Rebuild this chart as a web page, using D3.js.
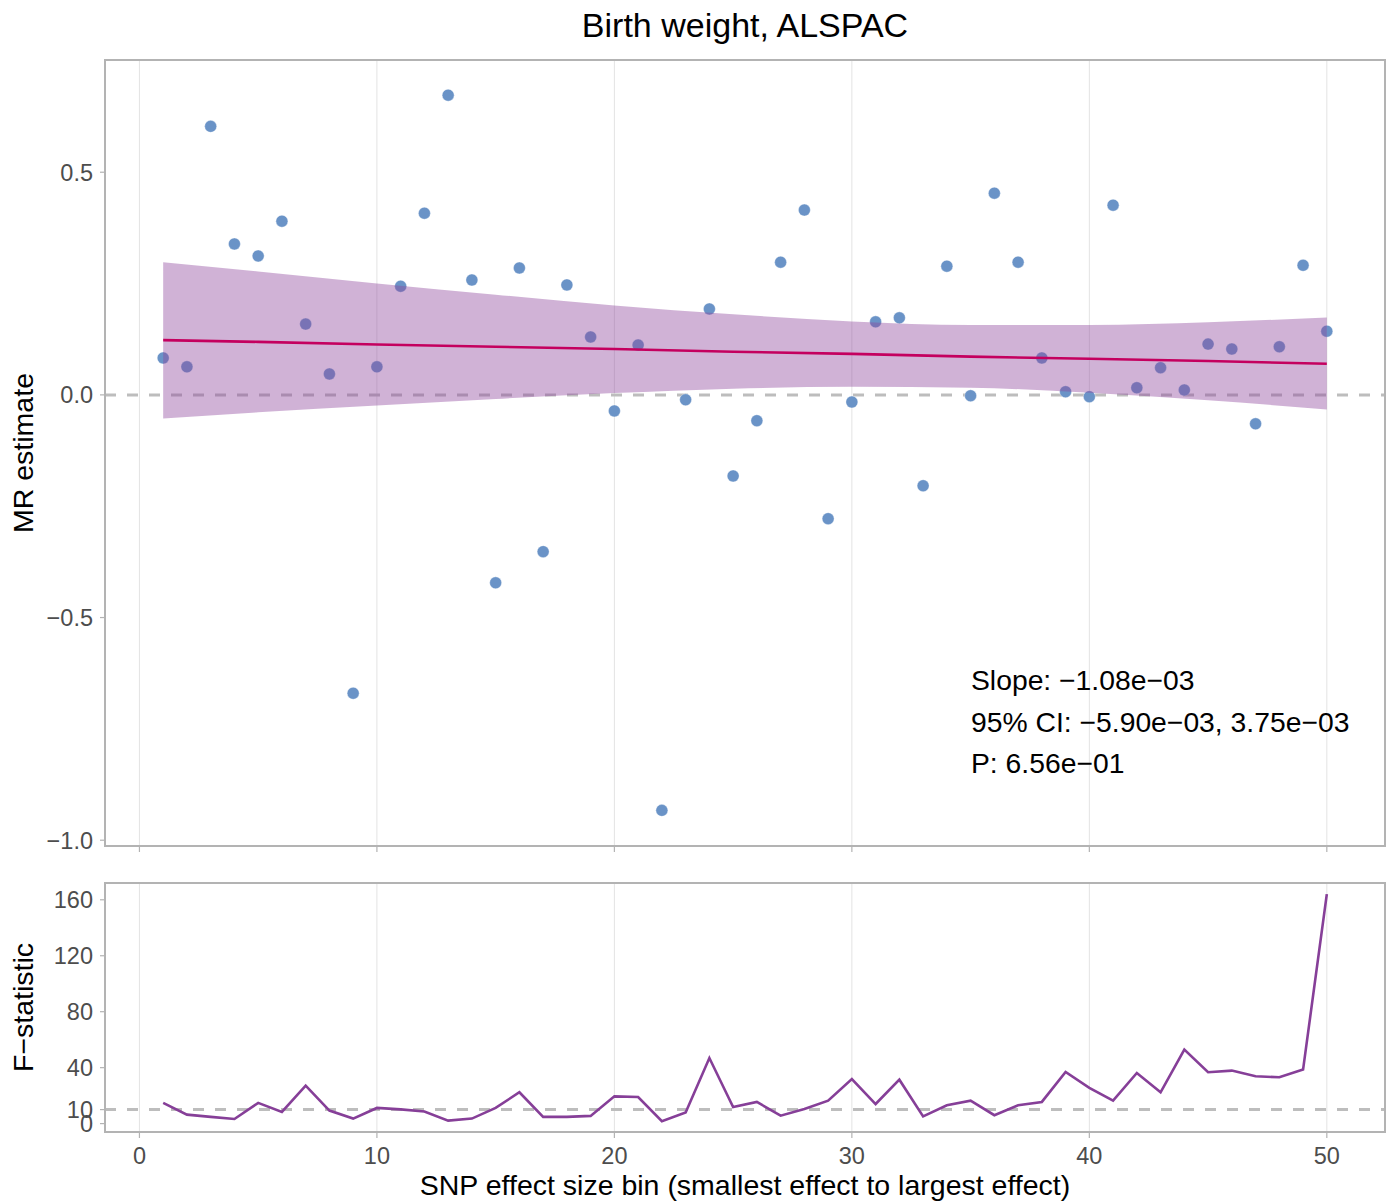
<!DOCTYPE html>
<html lang="en">
<head>
  <meta charset="UTF-8">
  <title>Birth weight, ALSPAC</title>
  <style>
    body { margin: 0; background: #fff; }
    svg { font-family: "Liberation Sans", Arial, sans-serif; }
    .frame { fill: none; stroke: #b3b3b3; stroke-width: 2; }
    .grid line { stroke: #e3e3e3; stroke-width: 1; }
    .tick-label { fill: #4d4d4d; font-size: 23.5px; }
    .axis-title { fill: #000; font-size: 28.5px; }
  </style>
  <script src="https://d3js.org/d3.v7.min.js"></script>
</head>
<body>
<div id="chart"></div>
<script>
  // bins 1..50
  var bins = d3.range(1, 51);

  // MR estimate per bin
  var mrEstimate = [
    0.083, 0.063, 0.603, 0.339, 0.312, 0.390, 0.159, 0.047, -0.670, 0.063,
    0.244, 0.408, 0.673, 0.258, -0.422, 0.285, -0.352, 0.247, 0.130, -0.036,
    0.112, -0.933, -0.011, 0.193, -0.182, -0.058, 0.298, 0.415, -0.278, -0.016,
    0.164, 0.173, -0.204, 0.289, -0.002, 0.453, 0.298, 0.083, 0.007, -0.004,
    0.426, 0.016, 0.061, 0.011, 0.114, 0.103, -0.065, 0.108, 0.291, 0.143
  ];

  // F-statistic per bin
  var fStat = [
    14.8, 6.4, 4.8, 3.3, 14.8, 8.3, 27.1, 9.3, 3.6, 11.2,
    10.2, 8.6, 2.1, 3.6, 11.2, 22.4, 4.8, 4.8, 5.5, 19.5,
    19.0, 1.7, 7.9, 46.9, 11.9, 15.5, 5.7, 10.5, 16.4, 31.9,
    14.0, 31.4, 5.2, 13.1, 16.4, 6.0, 13.1, 15.5, 36.9, 25.5,
    16.4, 36.2, 22.4, 52.9, 36.7, 37.9, 33.8, 33.1, 38.6, 164.0
  ];

  // fitted line and 95% band, read at a few bins
  var fitX     = [1, 5, 10, 15, 20, 25, 30, 35, 40, 45, 50];
  var fitMid   = [0.123, 0.119, 0.113, 0.108, 0.103, 0.097, 0.092, 0.086, 0.081, 0.076, 0.070];
  var fitUpper = [0.298, 0.277, 0.250, 0.225, 0.201, 0.181, 0.165, 0.157, 0.157, 0.163, 0.174];
  var fitLower = [-0.053, -0.039, -0.024, -0.009, 0.004, 0.014, 0.018, 0.016, 0.005, -0.012, -0.033];

  var xTicks = [0, 10, 20, 30, 40, 50];
  var mrTicks = [-1.0, -0.5, 0.0, 0.5];
  var fTicks = [0, 10, 40, 80, 120, 160];
  var fThreshold = 10;

  var statLines = [
    "Slope: \u22121.08e\u221203",
    "95% CI: \u22125.90e\u221203, 3.75e\u221203",
    "P: 6.56e\u221201"
  ];

  var width = 1392, height = 1204;
  var left = 105, right = 1385;
  var top1 = 60, bottom1 = 846;
  var top2 = 883, bottom2 = 1132;

  var svg = d3.select("#chart").append("svg")
    .attr("width", width)
    .attr("height", height);

  var x = d3.scaleLinear().domain([-1.45, 52.45]).range([left, right]);
  var y1 = d3.scaleLinear().domain([-1.013, 0.752]).range([bottom1, top1]);
  var y2 = d3.scaleLinear().domain([-6, 172]).range([bottom2, top2]);

  var fmtMinus = function(s) { return s.replace("-", "\u2212"); };

  function panel(yScale, top, bottom, ticks, fmt) {
    // vertical grid
    svg.append("g").attr("class", "grid")
      .selectAll("line").data(xTicks).enter().append("line")
      .attr("x1", d => x(d)).attr("x2", d => x(d))
      .attr("y1", top).attr("y2", bottom);

    // y ticks
    var g = svg.append("g");
    g.selectAll("line").data(ticks).enter().append("line")
      .attr("x1", left - 5).attr("x2", left)
      .attr("y1", d => yScale(d)).attr("y2", d => yScale(d))
      .attr("stroke", "#b3b3b3").attr("stroke-width", 1.2);
    g.selectAll("text").data(ticks).enter().append("text")
      .attr("class", "tick-label")
      .attr("x", left - 12)
      .attr("y", d => yScale(d))
      .attr("dy", "0.36em")
      .attr("text-anchor", "end")
      .text(fmt);

    // x ticks
    svg.append("g").selectAll("line").data(xTicks).enter().append("line")
      .attr("x1", d => x(d)).attr("x2", d => x(d))
      .attr("y1", bottom).attr("y2", bottom + 6)
      .attr("stroke", "#b3b3b3").attr("stroke-width", 1.2);
  }

  panel(y1, top1, bottom1, mrTicks, d => fmtMinus(d3.format(".1f")(d)));
  panel(y2, top2, bottom2, fTicks, d => d);

  // ---- top panel ----
  svg.append("line")
    .attr("x1", left).attr("x2", right)
    .attr("y1", y1(0)).attr("y2", y1(0))
    .attr("stroke", "#bdbdbd").attr("stroke-width", 3)
    .attr("stroke-dasharray", "11,11");

  svg.append("g").selectAll("circle")
    .data(bins).enter().append("circle")
    .attr("cx", d => x(d))
    .attr("cy", (d, i) => y1(mrEstimate[i]))
    .attr("r", 6)
    .attr("fill", "#6a93c7")
    .attr("stroke", "#fff").attr("stroke-width", 0.6).attr("stroke-opacity", 0.6);

  var band = d3.area()
    .x((d, i) => x(fitX[i]))
    .y0((d, i) => y1(fitLower[i]))
    .y1((d, i) => y1(fitUpper[i]))
    .curve(d3.curveMonotoneX);

  svg.append("path")
    .datum(fitX)
    .attr("d", band)
    .attr("fill", "#8f479d")
    .attr("fill-opacity", 0.42);

  svg.append("path")
    .datum(fitX)
    .attr("d", d3.line().x((d, i) => x(fitX[i])).y((d, i) => y1(fitMid[i])))
    .attr("fill", "none")
    .attr("stroke", "#c4005f")
    .attr("stroke-width", 2.6);

  svg.append("rect").attr("class", "frame")
    .attr("x", left).attr("y", top1)
    .attr("width", right - left).attr("height", bottom1 - top1);

  svg.append("g").selectAll("text").data(statLines).enter().append("text")
    .attr("x", 971)
    .attr("y", (d, i) => 690 + i * 41.5)
    .attr("font-size", 28.3)
    .attr("fill", "#000")
    .text(d => d);

  // ---- bottom panel ----
  svg.append("line")
    .attr("x1", left).attr("x2", right)
    .attr("y1", y2(fThreshold)).attr("y2", y2(fThreshold))
    .attr("stroke", "#bdbdbd").attr("stroke-width", 3)
    .attr("stroke-dasharray", "11,11");

  svg.append("path")
    .datum(bins)
    .attr("d", d3.line().x(d => x(d)).y((d, i) => y2(fStat[i])))
    .attr("fill", "none")
    .attr("stroke", "#863f98")
    .attr("stroke-width", 2.6);

  svg.append("rect").attr("class", "frame")
    .attr("x", left).attr("y", top2)
    .attr("width", right - left).attr("height", bottom2 - top2);

  svg.append("g").selectAll("text").data(xTicks).enter().append("text")
    .attr("class", "tick-label")
    .attr("x", d => x(d))
    .attr("y", 1164)
    .attr("text-anchor", "middle")
    .text(d => d);

  // titles
  svg.append("text")
    .attr("x", 745).attr("y", 37)
    .attr("text-anchor", "middle")
    .attr("font-size", 34)
    .attr("fill", "#000")
    .text("Birth weight, ALSPAC");

  svg.append("text").attr("class", "axis-title")
    .attr("x", 745).attr("y", 1195)
    .attr("text-anchor", "middle")
    .text("SNP effect size bin (smallest effect to largest effect)");

  svg.append("text").attr("class", "axis-title")
    .attr("transform", "translate(33," + (top1 + bottom1) / 2 + ") rotate(-90)")
    .attr("text-anchor", "middle")
    .text("MR estimate");

  svg.append("text").attr("class", "axis-title")
    .attr("transform", "translate(33," + (top2 + bottom2) / 2 + ") rotate(-90)")
    .attr("text-anchor", "middle")
    .text("F\u2212statistic");
</script>
</body>
</html>
